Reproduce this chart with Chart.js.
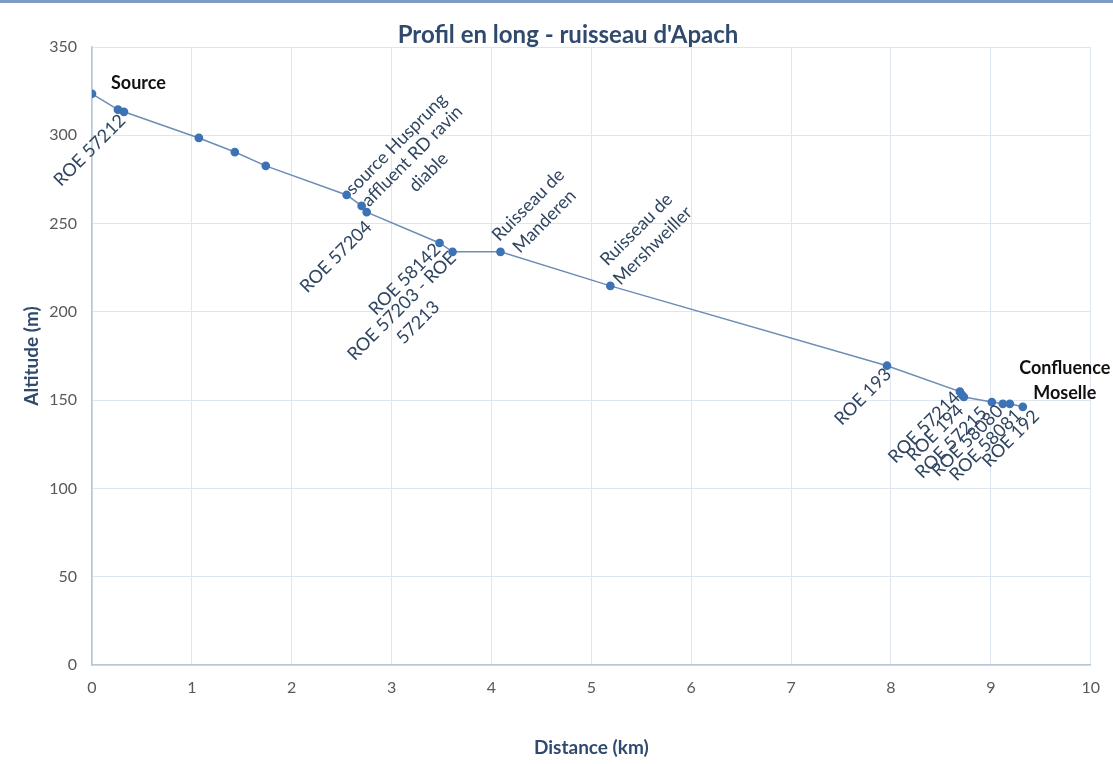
<!DOCTYPE html>
<html>
<head>
<meta charset="utf-8">
<script src="https://cdn.jsdelivr.net/npm/chart.js@4/dist/chart.umd.min.js"></script>
<style>
html,body{margin:0;padding:0;background:#fff;}
#wrap{position:relative;width:1113px;height:764px;}
#topline{position:absolute;left:0;top:0;width:1113px;height:3px;background:#7f9cc4;}
canvas{display:block;}
</style>
</head>
<body>
<div id="wrap"><canvas id="c" width="1113" height="764"></canvas><div id="topline"></div></div>
<script>
// ---- data ----
const distanceKm = [0, 0.26, 0.32, 1.07, 1.43, 1.74, 2.55, 2.70, 2.75, 3.48, 3.61, 4.09, 5.19, 7.96, 8.69, 8.71, 8.73, 9.01, 9.12, 9.19, 9.32];
const altitudeM  = [323.5, 314.5, 313.3, 298.5, 290.5, 282.7, 266.2, 260.0, 256.5, 239.0, 234.0, 234.0, 214.7, 169.5, 154.8, 153.0, 151.8, 148.9, 147.9, 147.9, 146.2];
const pointNames = [
  ["Source"], [], ["ROE 57212"], [], [], [],
  ["source Husprung"], ["affluent RD ravin", "diable"], ["ROE 57204"],
  ["ROE 58142"], ["ROE 57203 - ROE", "57213"], ["Ruisseau de", "Manderen"],
  ["Ruisseau de", "Mershweiller"], ["ROE 193"], ["ROE 57214"], ["ROE 194"],
  [], ["ROE 57215"], ["ROE 58080"], ["ROE 58081"], ["ROE 192"]
];
const endNames = { 20: ["Confluence", "Moselle"] };
const xTicks = [0,1,2,3,4,5,6,7,8,9,10];
const yTicks = [0,50,100,150,200,250,300,350];
const chartTitle = "Profil en long - ruisseau d'Apach";
const xTitle = "Distance (km)";
const yTitle = "Altitude (m)";

// ---- label placement (style only): side, offset along text (u) and across (v) ----
const labelPlace = {
  0:  {side: 'h', dx: 19, dy: -11, align: 'left'},
  2:  {side: 'b', u: -5, v: 3},
  6:  {side: 'a', u: 4, v: -1},
  7:  {side: 'a', u: 4, v: 12},
  8:  {side: 'b', u: -7, v: 10},
  9:  {side: 'b', u: -4, v: 1},
  10: {side: 'b', u: -2, v: 14},
  11: {side: 'a', u: 6, v: -2},
  12: {side: 'a', u: 7, v: -10},
  13: {side: 'b', u: -3, v: 5},
  14: {side: 'b', u: -4, v: 0},
  15: {side: 'b', u: -10, v: 8},
  17: {side: 'b', u: -11, v: 0},
  18: {side: 'b', u: -5, v: 1},
  19: {side: 'b', u: 0, v: 12},
  20: {side: 'b', u: 5, v: 14}
};
const endPlace = { 20: {side: 'h', dx: 42, dy: -26, align: 'center'} };

const FONT = "Lato, 'Open Sans', sans-serif";
const points = distanceKm.map((d, i) => ({x: d, y: altitudeM[i]}));

const labelPlugin = {
  id: 'pointLabels',
  afterDatasetsDraw(chart) {
    const ctx = chart.ctx;
    const meta = chart.getDatasetMeta(0);
    const lh = 23;
    function drawRotated(px, py, lines, cfg) {
      ctx.save();
      ctx.translate(px, py);
      ctx.rotate(-Math.PI / 4);
      ctx.font = "18px " + FONT;
      ctx.fillStyle = "#2f4560";
      ctx.textBaseline = 'middle';
      const widths = lines.map(l => ctx.measureText(l).width);
      const maxW = Math.max(...widths);
      const n = lines.length;
      lines.forEach((l, k) => {
        const v = cfg.v + (k - (n - 1) / 2) * lh;
        const w = widths[k];
        if (cfg.side === 'a') {
          ctx.textAlign = 'left';
          ctx.fillText(l, cfg.u + (maxW - w) / 2, v);
        } else {
          ctx.textAlign = 'right';
          ctx.fillText(l, cfg.u - (maxW - w) / 2, v);
        }
      });
      ctx.restore();
    }
    function drawBold(px, py, lines, cfg) {
      ctx.save();
      ctx.font = "bold 18px " + FONT;
      ctx.fillStyle = "#111111";
      ctx.textBaseline = 'middle';
      ctx.textAlign = cfg.align;
      const n = lines.length;
      lines.forEach((l, k) => {
        ctx.fillText(l, px + cfg.dx, py + cfg.dy + (k - (n - 1) / 2) * 25);
      });
      ctx.restore();
    }
    function draw(el, lines, cfg) {
      if (!lines || !lines.length || !cfg) return;
      if (cfg.side === 'h') drawBold(el.x, el.y, lines, cfg);
      else drawRotated(el.x, el.y, lines, cfg);
    }
    meta.data.forEach((el, i) => {
      draw(el, pointNames[i], labelPlace[i]);
      draw(el, endNames[i], endPlace[i]);
    });
  }
};

new Chart(document.getElementById('c'), {
  type: 'scatter',
  data: {
    datasets: [{
      data: points,
      showLine: true,
      borderColor: '#6d8db5',
      borderWidth: 1.5,
      backgroundColor: '#3d73b6',
      pointBackgroundColor: '#3d73b6',
      pointBorderColor: '#3d73b6',
      pointRadius: 3.6,
      tension: 0
    }]
  },
  options: {
    responsive: false,
    animation: false,
    layout: { padding: { left: 38, right: 15, top: 10, bottom: 5 } },
    plugins: {
      legend: { display: false },
      tooltip: { enabled: false },
      title: {
        display: true,
        text: chartTitle,
        color: '#2f4a6d',
        font: { family: FONT, size: 24, weight: 'bold', lineHeight: 1 },
        padding: { top: 13, bottom: 0 }
      }
    },
    scales: {
      x: {
        type: 'linear',
        min: 0, max: 10,
        afterBuildTicks: (s) => { s.ticks = xTicks.map(v => ({value: v})); },
        afterFit: (s) => { s.height = 94; },
        grid: { color: '#dde6f0', lineWidth: 1, drawTicks: false },
        border: { color: '#b6c7da', width: 1.5 },
        ticks: { color: '#595959', font: { family: FONT, size: 16 }, padding: 13 },
        title: {
          display: true, text: xTitle, color: '#2f4a6d',
          font: { family: FONT, size: 19, weight: 'bold' },
          padding: { top: 0, bottom: 0 }
        }
      },
      y: {
        type: 'linear',
        min: 0, max: 350,
        afterBuildTicks: (s) => { s.ticks = yTicks.map(v => ({value: v})); },
        afterFit: (s) => { s.width = 54; },
        grid: { color: '#dde6f0', lineWidth: 1, drawTicks: false },
        border: { color: '#b6c7da', width: 1.5 },
        ticks: { color: '#595959', font: { family: FONT, size: 16 }, padding: 15 },
        title: {
          display: true, text: yTitle, color: '#2f4a6d',
          font: { family: FONT, size: 19, weight: 'bold' },
          padding: { top: -18, bottom: 0 }
        }
      }
    }
  },
  plugins: [labelPlugin]
});
</script>
</body>
</html>
